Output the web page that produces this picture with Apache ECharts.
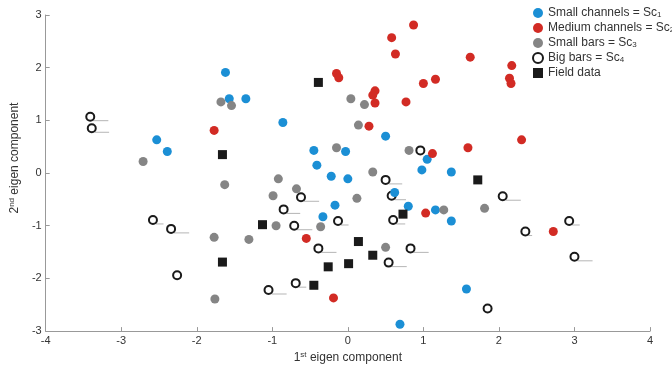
<!DOCTYPE html>
<html>
<head>
<meta charset="utf-8">
<script src="https://cdn.jsdelivr.net/npm/echarts@6/dist/echarts.min.js"></script>
<style>
  html, body { margin: 0; padding: 0; background: #fff; }
  #main { width: 672px; height: 369px; }
</style>
</head>
<body>
<div id="main"></div>
<script>
// eigen component scores, [1st, 2nd]
var smallChannels = [
  [-1.62, 1.91], [-1.57, 1.41], [-1.35, 1.41], [-0.86, 0.96], [-2.53, 0.63], [-2.39, 0.41],
  [-0.45, 0.43], [-0.03, 0.41], [-0.41, 0.15], [-0.22, -0.06], [0.0, -0.11], [-0.17, -0.61],
  [-0.33, -0.83], [0.50, 0.70], [1.05, 0.26], [0.98, 0.06], [1.37, 0.02], [0.62, -0.37],
  [0.80, -0.63], [1.16, -0.70], [1.37, -0.91], [1.57, -2.20], [0.69, -2.87]
];
var mediumChannels = [
  [-0.15, 1.89], [-0.12, 1.81], [-1.77, 0.81], [0.28, 0.89], [0.87, 2.81], [0.58, 2.57],
  [0.63, 2.26], [1.62, 2.20], [2.17, 2.04], [1.16, 1.78], [1.00, 1.70], [2.14, 1.80],
  [2.16, 1.70], [0.36, 1.56], [0.33, 1.48], [0.36, 1.33], [0.77, 1.35], [2.30, 0.63],
  [1.59, 0.48], [1.12, 0.37], [-0.55, -1.24], [-0.19, -2.37], [1.03, -0.76], [2.72, -1.11]
];
var smallBars = [
  [-1.68, 1.35], [-1.54, 1.28], [0.04, 1.41], [0.22, 1.30], [0.14, 0.91], [-0.15, 0.48],
  [0.81, 0.43], [0.33, 0.02], [-1.63, -0.22], [-0.92, -0.11], [-0.68, -0.30], [-0.99, -0.43],
  [0.12, -0.48], [-0.95, -1.00], [-0.36, -1.02], [-1.77, -1.22], [-1.31, -1.26], [-1.76, -2.39],
  [1.27, -0.70], [1.81, -0.67], [0.50, -1.41], [-2.71, 0.22]
];
var bigBars = [
  [-3.41, 1.07], [-3.39, 0.85], [-2.58, -0.89], [-2.34, -1.06], [-2.26, -1.94], [0.96, 0.43],
  [-0.62, -0.46], [-0.85, -0.69], [-0.71, -1.00], [-0.13, -0.91], [-0.39, -1.43], [-0.69, -2.09],
  [-1.05, -2.22], [0.50, -0.13], [0.58, -0.43], [2.05, -0.44], [0.60, -0.89], [2.35, -1.11],
  [0.83, -1.43], [0.54, -1.70], [1.85, -2.57], [2.93, -0.91], [3.00, -1.59]
];
// length of the grey trail to the right of each big-bar marker (1st component units)
var bigBarTails = [
  0.2, 0.19, 0.1, 0.2, 0, 0,
  0.2, 0.18, 0.2, 0.1, 0.2, 0.1,
  0.2, 0.18, 0.15, 0.2, 0.12, 0.05,
  0.2, 0.2, 0, 0.1, 0.2
];
var fieldData = [
  [-0.39, 1.72], [-1.66, 0.35], [1.72, -0.13], [-1.13, -0.98], [0.73, -0.78], [0.14, -1.30],
  [-1.66, -1.69], [0.33, -1.56], [0.01, -1.72], [-0.26, -1.78], [-0.45, -2.13]
];
var seriesNames = ['Small channels = Sc{s|1}', 'Medium channels = Sc{s|2}', 'Small bars = Sc{s|3}', 'Big bars = Sc{s|4}', 'Field data'];
var xTicks = [-4, -3, -2, -1, 0, 1, 2, 3, 4];
var yTicks = [-3, -2, -1, 0, 1, 2, 3];

var chart = echarts.init(document.getElementById('main'));
var font = 'Liberation Sans, Arial, sans-serif';

var bigData = bigBars.map(function (p, i) { return [p[0], p[1], bigBarTails[i]]; });

var option = {
  animation: false,
  textStyle: { fontFamily: font },
  grid: { left: 27, right: 22, top: 15, bottom: 30 },
  legend: {
    orient: 'vertical',
    left: 527,
    top: 2,
    itemWidth: 10,
    itemHeight: 10,
    itemGap: 3,
    textStyle: {
      fontSize: 12, color: '#333', fontFamily: font,
      rich: { s: { fontSize: 8, color: '#333', padding: [4, 0, 0, 0] } }
    },
    data: [
      { name: seriesNames[0], icon: 'circle' },
      { name: seriesNames[1], icon: 'circle' },
      { name: seriesNames[2], icon: 'circle' },
      { name: seriesNames[3], icon: 'circle', itemStyle: { color: '#fff', borderColor: '#1a1a1a', borderWidth: 2 } },
      { name: seriesNames[4], icon: 'rect' }
    ]
  },
  xAxis: {
    type: 'value',
    min: xTicks[0], max: xTicks[xTicks.length - 1], interval: 1,
    name: '1{sup|st} eigen component',
    nameLocation: 'middle',
    nameGap: 16,
    nameTextStyle: { fontSize: 12, color: '#333', rich: { sup: { fontSize: 8, color: '#333', padding: [0, 0, 6, 0] } } },
    splitLine: { show: false },
    axisLine: { onZero: false, lineStyle: { color: '#999' } },
    axisTick: { inside: true, length: 4, lineStyle: { color: '#999' } },
    axisLabel: { color: '#333', fontSize: 11, margin: 4 }
  },
  yAxis: {
    type: 'value',
    min: yTicks[0], max: yTicks[yTicks.length - 1], interval: 1,
    name: '2{sup|nd} eigen component',
    nameLocation: 'middle',
    nameGap: 11,
    nameTextStyle: { fontSize: 12, color: '#333', padding: [0, 0, 0, 30], rich: { sup: { fontSize: 8, color: '#333', padding: [0, 0, 6, 0] } } },
    splitLine: { show: false },
    axisLine: { show: true, onZero: false, lineStyle: { color: '#999' } },
    axisTick: { show: true, inside: true, length: 4, lineStyle: { color: '#999' } },
    axisLabel: { color: '#333', fontSize: 11, margin: 4 }
  },
  series: [
    { name: seriesNames[0], type: 'scatter', data: smallChannels, symbol: 'circle', symbolSize: 9, itemStyle: { color: '#1b8fd5', opacity: 1 } },
    { name: seriesNames[1], type: 'scatter', data: mediumChannels, symbol: 'circle', symbolSize: 9, itemStyle: { color: '#d22b24', opacity: 1 } },
    { name: seriesNames[2], type: 'scatter', data: smallBars, symbol: 'circle', symbolSize: 9, itemStyle: { color: '#858585', opacity: 1 } },
    {
      name: seriesNames[3], type: 'custom', data: bigData,
      itemStyle: { color: '#fff', borderColor: '#1a1a1a', borderWidth: 2 },
      encode: { x: 0, y: 1 },
      renderItem: function (params, api) {
        var p = api.coord([api.value(0), api.value(1)]);
        var e = api.coord([api.value(0) + api.value(2), api.value(1)]);
        var children = [];
        if (api.value(2) > 0) {
          children.push({ type: 'line', shape: { x1: p[0] + 3, y1: p[1] + 4, x2: e[0] + 3, y2: p[1] + 4 }, style: { stroke: '#b5b5b5', lineWidth: 1 } });
        }
        children.push({ type: 'circle', shape: { cx: p[0], cy: p[1], r: 4 }, style: { fill: '#fff', stroke: '#1a1a1a', lineWidth: 2 } });
        return { type: 'group', children: children };
      }
    },
    { name: seriesNames[4], type: 'scatter', data: fieldData, symbol: 'rect', symbolSize: 9, itemStyle: { color: '#1a1a1a', opacity: 1 } }
  ]
};
chart.setOption(option);
</script>
</body>
</html>
